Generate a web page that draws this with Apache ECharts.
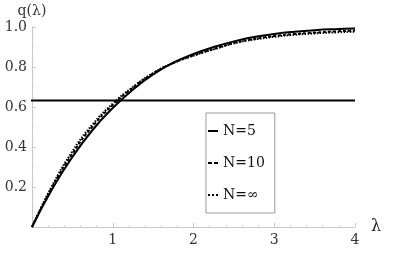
<!DOCTYPE html>
<html>
<head>
<meta charset="utf-8">
<script src="https://cdn.jsdelivr.net/npm/echarts@6/dist/echarts.min.js"></script>
<style>html,body{margin:0;padding:0;background:#fff;}#c{width:407px;height:253px;}</style>
</head>
<body>
<div id="c"></div>
<script>
const lambda = [0, 0.25, 0.5, 0.75, 1, 1.25, 1.5, 1.75, 2, 2.25, 2.5, 2.75, 3, 3.25, 3.5, 3.75, 4];
const qN5   = [0, 0.19, 0.35, 0.485, 0.595, 0.687, 0.763, 0.822, 0.865, 0.9, 0.928, 0.95, 0.965, 0.976, 0.984, 0.989, 0.992];
const qN10  = [0, 0.2, 0.367, 0.503, 0.61, 0.697, 0.768, 0.82, 0.858, 0.89, 0.92, 0.94, 0.955, 0.965, 0.972, 0.978, 0.982];
const qNinf = [0, 0.207, 0.378, 0.513, 0.617, 0.70, 0.77, 0.82, 0.857, 0.888, 0.918, 0.937, 0.951, 0.961, 0.968, 0.973, 0.977];
const thresholdX = [-0.4, 4];
const thresholdY = 0.632;
const seriesNames = ['N=5', 'N=10', 'N=\u221e'];
const xTicks = [1, 2, 3, 4];
const yTicks = [0.2, 0.4, 0.6, 0.8, 1.0];

const pair = (xs, ys) => xs.map((x, i) => [x, ys[i]]);
const font = 'DejaVu Serif';
const icons = [
  'path://M0,0h10v2h-10z',
  'path://M0,0h4v2h-4zM6,0h4v2h-4z',
  'path://M0,0h2v2h-2zM4,0h2v2h-2zM8,0h2v2h-2z'
];
const chart = echarts.init(document.getElementById('c'));
chart.setOption({
  animation: false,
  textStyle: { fontFamily: font },
  grid: { left: 32, top: 27, right: 52, bottom: 26 },
  xAxis: {
    type: 'value', min: 0, max: 4, interval: 1,
    name: '\u03bb', nameLocation: 'end', nameGap: 16,
    nameTextStyle: { fontFamily: font, fontSize: 16, color: '#222' },
    axisLine: { onZero: false, lineStyle: { color: '#c8c8c8', width: 1 } },
    axisTick: { inside: true, length: 4, lineStyle: { color: '#c8c8c8' } },
    minorTick: { show: true, splitNumber: 5, length: 2, lineStyle: { color: '#d8d8d8' } },
    splitLine: { show: false },
    axisLabel: { margin: 6, fontFamily: font, fontSize: 14, color: '#333',
      formatter: v => xTicks.includes(v) ? String(v) : '' }
  },
  yAxis: {
    type: 'value', min: 0, max: 1, interval: 0.2,
    name: 'q(\u03bb)', nameLocation: 'end', nameGap: 9,
    nameTextStyle: { fontFamily: font, fontSize: 14, color: '#333' },
    axisLine: { show: true, onZero: false, lineStyle: { color: '#c8c8c8', width: 1 } },
    axisTick: { show: true, inside: true, length: 4, lineStyle: { color: '#c8c8c8' } },
    minorTick: { show: true, splitNumber: 4, length: 2, lineStyle: { color: '#d8d8d8' } },
    splitLine: { show: false },
    axisLabel: { margin: 5, fontFamily: font, fontSize: 14, color: '#333',
      formatter: v => yTicks.some(t => Math.abs(t - v) < 1e-9) ? v.toFixed(1) : '' }
  },
  legend: {
    orient: 'vertical', left: 206, top: 113,
    data: seriesNames.map((n, i) => ({ name: n, icon: icons[i] })),
    borderColor: '#999', borderWidth: 1, padding: [10, 10, 10, 2],
    itemGap: 16, itemWidth: 10, itemHeight: 2,
    textStyle: { fontFamily: font, fontSize: 14, color: '#111', lineHeight: 16 }
  },
  series: [
    { name: seriesNames[0], type: 'line', smooth: true, symbol: 'none',
      lineStyle: { color: '#000', width: 2 }, itemStyle: { color: '#000' },
      data: pair(lambda, qN5) },
    { name: seriesNames[1], type: 'line', smooth: true, symbol: 'none',
      lineStyle: { color: '#000', width: 2, type: [3, 2] }, itemStyle: { color: '#000' },
      data: pair(lambda, qN10) },
    { name: seriesNames[2], type: 'line', smooth: true, symbol: 'none',
      lineStyle: { color: '#000', width: 2, type: [1.5, 1.5] }, itemStyle: { color: '#000' },
      data: pair(lambda, qNinf) },
    { name: 'threshold', type: 'line', symbol: 'none', clip: false,
      lineStyle: { color: '#000', width: 2 },
      data: thresholdX.map(x => [x, thresholdY]) }
  ]
});
</script>
</body>
</html>
